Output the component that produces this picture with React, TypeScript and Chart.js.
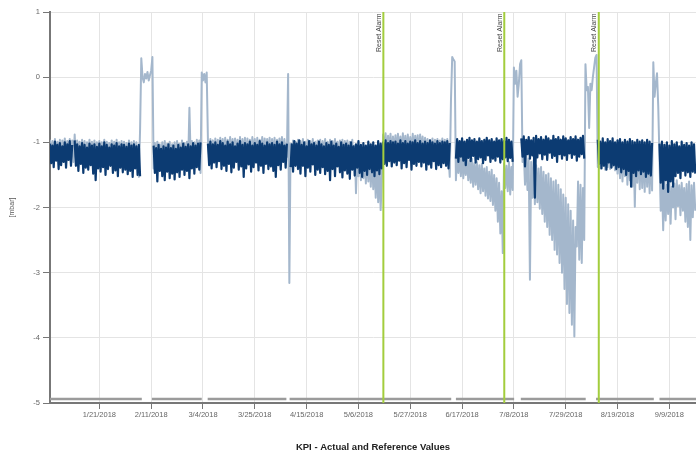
import React, { useEffect, useRef } from 'react';
import { Chart, registerables } from 'chart.js';

Chart.register(...registerables);

// ---------- data ----------
// x axis is "days since 1/1/2018"; one sample every 12 hours
const sampleStepDays = 0.5;
const axisMinDay = 0;
const axisMaxDay = 261.8;

const tickDays = [20, 41, 62, 83, 104, 125, 146, 167, 188, 209, 230, 251];
const tickLabels = [
  '1/21/2018', '2/11/2018', '3/4/2018', '3/25/2018', '4/15/2018', '5/6/2018',
  '5/27/2018', '6/17/2018', '7/8/2018', '7/29/2018', '8/19/2018', '9/9/2018',
];

const chartTitle = 'KPI - Actual and Reference Values';
const yAxisTitle = '[mbar]';

const resetDays = [135.1, 184.1, 222.4];
const resetLabel = 'Reset Alarm';

// operating periods (grey bar at the bottom)
const runPeriods = [
  [0, 37.2], [41.3, 61.5], [63.9, 95.8], [97.1, 162.6],
  [164.5, 188.1], [190.8, 217.1], [221.3, 244.7], [247.0, 261.8],
];
const runBarLevel = -4.94;

// actual values (dark series)
const actualValues = [
  -1.02,-1.32,-1.05,-1.38,-0.99,-1.28,-1.04,-1.41,-1.01,-1.35,-1.06,-1.30,-1.00,-1.39,-1.03,-1.27,-0.98,-1.36,-1.04,null,
  -0.97,-1.36,-1.03,-1.44,-1.06,-1.33,-1.01,-1.47,-1.04,-1.39,-1.08,-1.42,-1.02,-1.35,-1.05,-1.48,-1.03,-1.58,-1.07,-1.40,
  -1.02,-1.45,-1.06,-1.38,-1.00,-1.50,-1.04,-1.41,-1.08,-1.36,-1.03,-1.47,-1.05,-1.43,-1.01,-1.52,-1.06,-1.39,-1.03,-1.46,
  -1.04,-1.42,-1.07,-1.49,-1.02,-1.44,-1.05,-1.53,-1.03,-1.40,-1.06,-1.50,-1.04,-1.52,null,null,null,null,null,null,
  null,null,null,null,-1.05,-1.47,-1.09,-1.60,-1.04,-1.44,-1.10,-1.52,-1.06,-1.58,-1.08,-1.45,-1.03,-1.55,-1.09,-1.48,
  -1.05,-1.57,-1.10,-1.46,-1.04,-1.53,-1.08,-1.42,-1.02,-1.50,-1.07,-1.44,-1.03,-1.55,-1.06,-1.40,-1.01,-1.48,-1.05,-1.38,
  -1.02,-1.42,-1.00,null,null,null,null,null,-1.02,-1.35,-0.99,-1.40,-1.03,-1.31,-1.00,-1.38,-1.04,-1.29,-0.98,-1.41,
  -1.01,-1.36,-1.05,-1.44,-0.99,-1.33,-1.03,-1.46,-1.00,-1.39,-1.06,-1.30,-1.02,-1.42,-0.98,-1.37,-1.04,-1.53,-1.01,-1.40,
  -1.03,-1.34,-0.99,-1.45,-1.05,-1.38,-1.01,-1.31,-1.04,-1.43,-0.98,-1.36,-1.02,-1.47,-1.05,-1.33,-1.00,-1.41,-1.03,-1.37,
  -1.01,-1.44,-1.04,-1.53,-0.99,-1.35,-1.03,-1.42,-1.00,-1.30,-1.05,-1.39,-1.02,null,null,-1.38,-1.03,-1.45,-0.98,-1.36,
  -1.02,-1.41,-0.97,-1.48,-1.04,-1.36,-1.00,-1.52,-1.06,-1.39,-0.98,-1.45,-1.03,-1.34,-1.01,-1.50,-1.05,-1.42,-0.99,-1.47,
  -1.03,-1.38,-1.06,-1.49,-1.01,-1.44,-1.04,-1.58,-0.99,-1.41,-1.05,-1.52,-1.02,-1.37,-1.07,-1.46,-1.00,-1.54,-1.04,-1.43,
  -1.02,-1.48,-1.05,-1.56,-1.00,-1.42,-1.06,-1.51,-1.03,-1.39,-0.98,-1.47,-1.04,-1.53,-1.01,-1.44,-1.05,-1.50,-0.99,-1.41,
  -1.03,-1.46,-1.00,-1.52,-1.05,-1.43,-0.98,-1.49,-1.02,-1.40,-1.00,-1.33,-0.97,-1.36,-1.01,-1.29,-0.98,-1.37,-1.00,-1.31,
  -0.99,-1.35,-1.02,-1.28,-0.97,-1.40,-1.01,-1.32,-0.98,-1.38,-1.02,-1.27,-0.99,-1.42,-1.00,-1.33,-0.97,-1.36,-1.01,-1.30,
  -0.98,-1.37,-1.02,-1.31,-0.99,-1.42,-1.01,-1.34,-0.97,-1.39,-1.00,-1.29,-1.02,-1.41,-0.98,-1.35,-1.01,-1.38,-0.99,-1.32,
  -1.00,-1.36,-0.98,-1.40,-1.01,null,null,null,null,-1.25,-0.95,-1.30,-0.98,-1.22,-0.94,-1.28,-0.99,-1.35,-0.96,-1.24,
  -0.93,-1.29,-0.97,-1.21,-0.95,-1.31,-0.99,-1.26,-0.94,-1.23,-0.98,-1.32,-0.96,-1.27,-0.93,-1.20,-0.97,-1.30,-0.95,-1.25,
  -0.99,-1.28,-0.94,-1.22,-0.97,-1.31,-0.95,-1.26,-0.98,-1.23,-0.93,-1.29,-0.96,-1.24,-0.99,-1.30,null,null,null,null,
  null,null,-0.94,-1.22,-0.91,-1.37,-0.96,-1.18,-0.92,-1.25,-0.97,-1.20,-0.93,-1.85,-0.90,-1.23,-0.95,-1.17,-0.92,-1.26,
  -0.96,-1.19,-0.91,-1.27,-0.94,-1.16,-0.97,-1.24,-0.90,-1.21,-0.95,-1.30,-0.92,-1.18,-0.96,-1.25,-0.91,-1.20,-0.94,-1.27,
  -0.97,-1.17,-0.92,-1.24,-0.95,-1.19,-0.91,-1.28,-0.96,-1.22,-0.93,-1.18,-0.90,-1.25,null,null,null,null,null,null,
  null,null,null,null,-0.96,-1.33,-0.99,-1.40,-0.94,-1.36,-1.00,-1.42,-0.95,-1.31,-0.98,-1.39,-0.94,-1.35,-1.00,-1.41,
  -0.97,-1.38,-0.95,-1.46,-1.00,-1.41,-0.96,-1.50,-0.99,-1.44,-0.95,-1.68,-0.98,-1.47,-1.00,-1.52,-0.96,-1.43,-0.99,-1.49,
  -0.97,-1.45,-1.00,-1.53,-0.96,-1.48,-0.99,-1.51,-1.01,null,null,null,null,null,-1.02,-1.62,-0.99,-1.71,-1.04,-1.58,
  -1.00,-1.76,-1.05,-1.60,-0.98,-1.68,-1.03,-1.52,-1.00,-1.47,-1.06,-1.55,-0.99,-1.44,-1.04,-1.51,-1.01,-1.46,-1.05,-1.53,
  -1.00,-1.45,-1.03,-1.48,
];

// reference values (light series)
const referenceValues = [
  -0.96,-1.22,-0.98,-1.18,-0.95,-1.25,-0.99,-1.20,-0.96,-1.24,-0.97,-1.19,-0.94,-1.23,-0.98,-1.21,-0.95,-1.26,-0.97,-1.30,
  -0.88,-1.24,-0.97,-1.20,-0.99,-1.27,-0.96,-1.22,-0.98,-1.25,-1.00,-1.19,-0.96,-1.28,-0.99,-1.23,-0.97,-1.26,-1.00,-1.21,
  -0.98,-1.25,-1.00,-1.21,-0.96,-1.28,-0.99,-1.24,-1.01,-1.20,-0.97,-1.27,-0.99,-1.22,-0.96,-1.29,-1.00,-1.23,-0.98,-1.26,
  -0.99,-1.24,-1.01,-1.28,-0.97,-1.22,-1.00,-1.30,-0.98,-1.25,-1.00,-1.27,-1.53,-0.81,0.29,0.00,-0.08,0.05,-0.02,0.08,
  -0.05,0.03,0.10,0.31,-1.40,-1.01,-1.25,-0.99,-1.28,-1.03,-1.22,-1.00,-1.30,-0.98,-1.24,-1.02,-1.27,-0.99,-1.23,-1.03,
  -1.26,-1.00,-1.29,-0.98,-1.23,-1.02,-1.27,-0.97,-1.25,-1.01,-1.22,-0.99,-1.28,-0.47,-1.24,-0.98,-1.26,-1.00,-1.21,-0.96,
  -1.25,-0.97,-1.47,0.07,-0.05,0.05,-0.08,0.07,-0.96,-1.22,-0.95,-1.18,-0.97,-1.24,-0.94,-1.20,-0.96,-1.23,-0.93,-1.19,
  -0.95,-1.22,-0.93,-1.18,-0.96,-1.25,-0.92,-1.20,-0.95,-1.23,-0.94,-1.17,-0.96,-1.24,-0.92,-1.21,-0.95,-1.19,-0.93,-1.26,
  -0.94,-1.20,-0.96,-1.23,-0.92,-1.18,-0.95,-1.25,-0.93,-1.21,-0.96,-1.19,-0.92,-1.24,-0.94,-1.22,-0.95,-1.18,-0.93,-1.23,
  -0.95,-1.21,-0.93,-1.24,-0.96,-1.19,-0.94,-1.22,-0.92,-1.25,-0.95,-1.20,-1.22,0.05,-3.16,-1.02,-1.24,-0.97,-1.21,-0.99,
  -1.23,-0.96,-1.26,-0.98,-1.20,-0.95,-1.25,-0.99,-1.22,-0.96,-1.27,-0.98,-1.21,-0.95,-1.24,-0.99,-1.26,-0.97,-1.22,-0.96,
  -1.25,-0.98,-1.21,-0.95,-1.27,-0.99,-1.23,-0.96,-1.26,-0.98,-1.20,-0.95,-1.24,-0.99,-1.28,-0.97,-1.22,-0.96,-1.25,-0.98,
  -1.24,-0.97,-1.27,-0.99,-1.22,-0.96,-1.30,-1.05,-1.78,-1.15,-1.52,-1.20,-1.58,-1.12,-1.55,-1.22,-1.63,-1.18,-1.60,-1.25,
  -1.68,-1.20,-1.72,-1.28,-1.85,-1.30,-1.92,-1.35,-2.04,-1.50,-0.88,-1.15,-0.86,-1.18,-0.90,-1.12,-0.87,-1.20,-0.91,-1.14,
  -0.89,-1.16,-0.87,-1.12,-0.91,-1.19,-0.86,-1.14,-0.90,-1.17,-0.88,-1.13,-0.92,-1.18,-0.87,-1.15,-0.90,-1.12,-0.89,-1.19,
  -0.88,-1.14,-0.91,-1.17,-0.93,-1.13,-0.95,-1.19,-0.97,-1.15,-0.94,-1.18,-0.96,-1.12,-0.95,-1.20,-0.97,-1.16,-0.94,-1.18,
  -0.96,-1.17,-0.95,-1.20,-1.53,-0.35,0.31,0.27,0.24,-1.58,-1.20,-1.47,-1.22,-1.52,-1.18,-1.55,-1.25,-1.50,-1.23,-1.58,
  -1.28,-1.62,-1.25,-1.68,-1.32,-1.65,-1.30,-1.72,-1.35,-1.78,-1.33,-1.75,-1.40,-1.82,-1.38,-1.86,-1.45,-1.90,-1.42,-1.96,
  -1.50,-2.05,-1.55,-2.22,-1.62,-2.40,-1.75,-2.70,-1.32,-1.70,-1.36,-1.75,-1.30,-1.80,-1.38,-1.73,0.15,-0.10,0.10,-0.30,
  -0.10,0.20,0.26,-1.30,-1.15,-1.65,-1.20,-1.73,-1.25,-3.11,-1.30,-1.85,-1.28,-1.95,-1.35,-1.92,-1.40,-2.02,-1.38,-2.10,
  -1.45,-2.22,-1.50,-2.30,-1.48,-2.42,-1.55,-2.50,-1.60,-2.65,-1.58,-2.72,-1.65,-2.85,-1.72,-3.00,-1.80,-3.25,-1.85,-3.48,
  -1.95,-3.62,-2.05,-3.80,-2.20,-3.98,-2.30,-2.60,-1.60,-2.80,-1.65,-2.85,-1.70,-2.50,0.20,-0.20,-0.15,-0.78,-0.10,-0.20,
  0.00,0.15,0.30,0.34,-1.38,-1.05,-1.40,-1.02,-1.36,-1.06,-1.42,-1.03,-1.38,-1.07,-1.41,-1.04,-1.37,-1.05,-1.43,-1.02,
  -1.48,-1.06,-1.55,-1.03,-1.60,-1.08,-1.52,-1.05,-1.65,-1.10,-1.58,-1.07,-1.68,-1.04,-1.99,-1.09,-1.62,-1.06,-1.72,-1.08,
  -1.70,-1.10,-1.76,-1.07,-1.68,-1.12,-1.78,-1.09,-1.74,0.23,-0.30,-0.10,0.06,-0.45,-1.25,-2.05,-1.62,-2.35,-1.58,-2.20,
  -1.65,-2.10,-1.60,-2.25,-1.68,-2.00,-1.63,-2.18,-1.58,-1.98,-1.66,-2.12,-1.62,-2.05,-1.70,-2.22,-1.64,-2.30,-1.60,-2.50,
  -1.66,-2.15,-1.62,-2.05,
];

// ---------- styling ----------
const FONT = '"Liberation Sans", Arial, sans-serif';
const DARK = '#0c3b72';
const LIGHT = '#a4b7cc';
const GREEN = '#a3cd3d';

const toPoints = (vals: (number | null)[]) =>
  vals.map((v, i) => ({ x: i * sampleStepDays, y: v }));

const runBarPoints = runPeriods.flatMap(([s, e]) => [
  { x: s, y: runBarLevel },
  { x: e, y: runBarLevel },
  { x: e, y: null },
]);

const resetPlugin = {
  id: 'resetAlarms',
  afterDatasetsDraw(chart: any) {
    const { ctx, chartArea, scales } = chart;
    ctx.save();
    resetDays.forEach((d) => {
      const x = scales.x.getPixelForValue(d);
      ctx.strokeStyle = GREEN;
      ctx.lineWidth = 2;
      ctx.beginPath();
      ctx.moveTo(x, chartArea.top);
      ctx.lineTo(x, chartArea.bottom);
      ctx.stroke();
      ctx.save();
      ctx.translate(x - 4.5, chartArea.top + 1.5);
      ctx.rotate(-Math.PI / 2);
      ctx.font = `7px ${FONT}`;
      ctx.fillStyle = '#444';
      ctx.textAlign = 'right';
      ctx.textBaseline = 'middle';
      ctx.fillText(resetLabel, 0, 0);
      ctx.restore();
    });
    ctx.restore();
  },
};

export default function App() {
  const ref = useRef<HTMLCanvasElement>(null);

  useEffect(() => {
    if (!ref.current) return;
    const chart = new Chart(ref.current, {
      type: 'line',
      data: {
        datasets: [
          {
            label: 'Actual',
            data: toPoints(actualValues) as any,
            borderColor: DARK,
            borderWidth: 2.2,
            borderJoinStyle: 'round',
            pointRadius: 0,
            spanGaps: false,
            order: 0,
          },
          {
            label: 'Reference',
            data: toPoints(referenceValues) as any,
            borderColor: LIGHT,
            borderWidth: 2.0,
            borderJoinStyle: 'round',
            pointRadius: 0,
            spanGaps: false,
            order: 1,
          },
          {
            label: 'Operating',
            data: runBarPoints as any,
            borderColor: '#9b9b9b',
            borderWidth: 2.5,
            pointRadius: 0,
            spanGaps: false,
            order: 2,
          },
        ],
      },
      options: {
        animation: false,
        responsive: false,
        layout: { padding: { top: 12, left: 0, right: 0, bottom: 0 } },
        plugins: { legend: { display: false }, tooltip: { enabled: false } },
        elements: { line: { tension: 0 } },
        scales: {
          x: {
            type: 'linear',
            min: axisMinDay,
            max: axisMaxDay,
            afterBuildTicks: (s: any) => {
              s.ticks = tickDays.map((v) => ({ value: v }));
            },
            afterFit: (s: any) => {
              s.height = 52;
            },
            ticks: {
              autoSkip: false,
              maxRotation: 0,
              padding: 1,
              color: '#666',
              font: { family: FONT, size: 7.5 },
              callback: (v: any) => tickLabels[tickDays.indexOf(Number(v))] ?? '',
            },
            grid: { color: '#e4e4e4', lineWidth: 1, tickLength: 6, tickColor: '#777' },
            border: { display: true, color: '#777', width: 2 },
            title: {
              display: true,
              text: chartTitle,
              color: '#222',
              font: { family: FONT, size: 9.5, weight: 'bold' },
              padding: { top: 0, bottom: 2.3 },
            },
          },
          y: {
            type: 'linear',
            min: -5,
            max: 1,
            afterFit: (s: any) => {
              s.width = 50;
            },
            ticks: { stepSize: 1, padding: 3, color: '#666', font: { family: FONT, size: 7.5 } },
            grid: { color: '#e4e4e4', lineWidth: 1, tickLength: 7, tickColor: '#777' },
            border: { display: true, color: '#777', width: 2 },
            title: {
              display: true,
              text: yAxisTitle,
              color: '#555',
              font: { family: FONT, size: 7 },
              padding: { top: 8, bottom: 0 },
            },
          },
        },
      },
      plugins: [resetPlugin],
    });
    return () => chart.destroy();
  }, []);

  return (
    <div style={{ position: 'absolute', left: 0, top: 0, width: 696, height: 455, background: '#fff' }}>
      <canvas ref={ref} width={696} height={455} style={{ width: 696, height: 455, display: 'block' }} />
    </div>
  );
}
